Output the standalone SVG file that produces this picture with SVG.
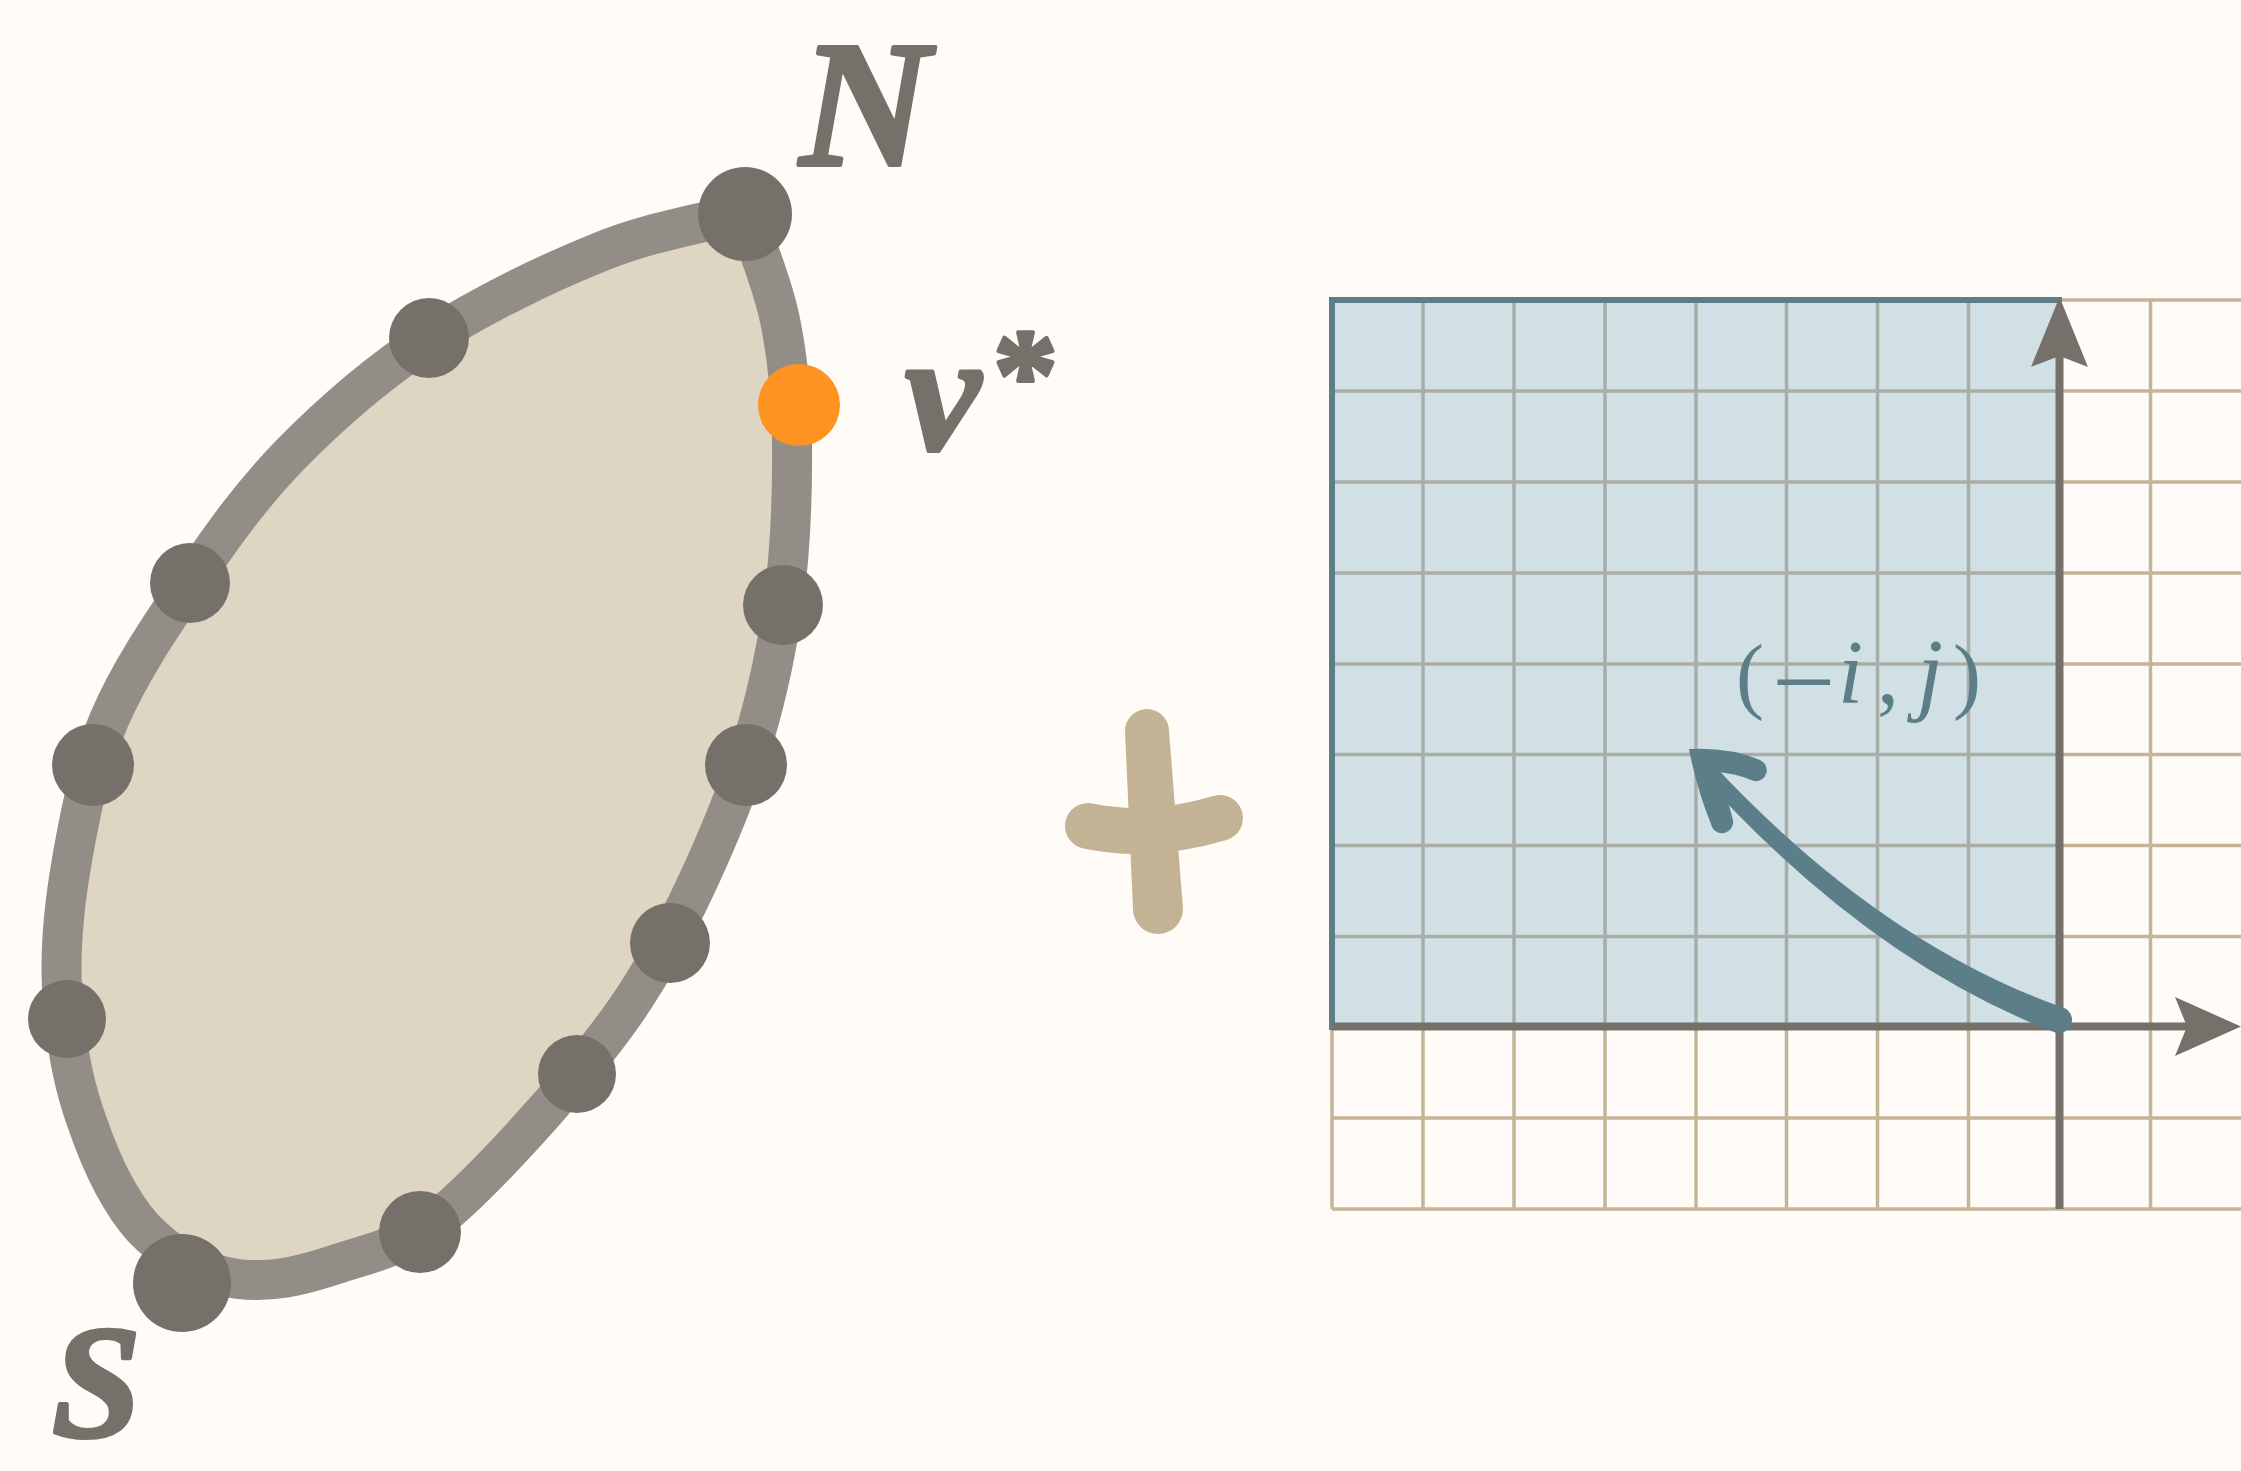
<svg xmlns="http://www.w3.org/2000/svg" width="2241" height="1471" viewBox="0 0 2241 1471">
  <style>
    .dot { fill: #75706a; }
    .lbl { font-family: "Liberation Serif", "DejaVu Serif", serif; fill: #75706a; font-weight: bold; stroke: #75706a; stroke-width: 4; stroke-linejoin: round; }
    .math { font-family: "Liberation Serif", "DejaVu Serif", serif; fill: #5c7e88; }
    .gin { stroke: #a9ada5; stroke-width: 3.5; fill: none; }
    .gout { stroke: #c5b498; stroke-width: 3.5; fill: none; }
    .axis { stroke: #75706a; stroke-width: 8; fill: none; }
    .axhead { fill: #75706a; }
    .arrowc { fill: #5c7e88; }
  </style>
  <rect x="0" y="0" width="2241" height="1471" fill="#fffcf7"/>

  <!-- Leaf-shaped region -->
  <g id="region">
    <path d="M 745 212 C 697 225, 652.7 230.8, 600 252 C 547.3 273.2, 480.7 305.2, 429 339 C 377.3 372.8, 329.8 414.3, 290 455 C 250.2 495.7, 220.2 538.8, 190 583 C 159.8 627.2, 128.7 673.8, 109 720 C 89.3 766.2, 79.8 815.5, 72 860 C 64.2 904.5, 59.8 943.7, 62 987 C 64.2 1030.3, 72 1081.2, 87 1122 C 100 1160, 118 1200, 143 1228 C 168 1254, 200 1274, 238 1279 C 272 1283, 300 1276, 334 1265 C 366 1254, 395 1250, 433 1223 C 474 1191.3, 537 1121.7, 576 1075 C 615 1028.3, 638.8 994.5, 667 943 C 695.2 891.5, 725.7 822.3, 745 766 C 764.3 709.7, 775.2 659.3, 783 605 C 790.8 550.7, 792.5 487.5, 792 440 C 791.5 392.5, 787.8 358, 780 320 C 772.2 282, 757 248, 745 212 Z" fill="#dfd5c3" stroke="#928e87" stroke-width="40" stroke-linejoin="round"/>
  </g>

  <!-- Vertices -->
  <g id="node-N"><circle class="dot" cx="745" cy="214" r="47"/></g>
  <g id="node-1"><circle class="dot" cx="429" cy="338" r="40"/></g>
  <g id="node-2"><circle class="dot" cx="190" cy="583" r="40"/></g>
  <g id="node-3"><circle class="dot" cx="93" cy="765" r="41"/></g>
  <g id="node-4"><circle class="dot" cx="67" cy="1019" r="39"/></g>
  <g id="node-S"><circle class="dot" cx="182" cy="1283" r="49"/></g>
  <g id="node-5"><circle class="dot" cx="420" cy="1232" r="41"/></g>
  <g id="node-6"><circle class="dot" cx="577" cy="1074" r="39"/></g>
  <g id="node-7"><circle class="dot" cx="670" cy="943" r="40"/></g>
  <g id="node-8"><circle class="dot" cx="746" cy="765" r="41"/></g>
  <g id="node-9"><circle class="dot" cx="783" cy="605" r="40"/></g>
  <g id="node-vstar"><circle cx="799" cy="405" r="41" fill="#fe9321"/></g>

  <!-- Labels -->
  <g id="label-N"><text class="lbl" x="800" y="165" font-size="180" font-style="italic">N</text></g>
  <g id="label-vstar">
    <text class="lbl" x="905" y="449" font-size="170" font-style="italic">v</text>
    <text class="lbl" x="993" y="418" font-size="130">*</text>
  </g>
  <g id="label-S"><text class="lbl" x="52" y="1436" font-size="160" font-style="italic">S</text></g>

  <!-- Plus sign -->
  <g id="plus" fill="#c4b295">
    <path d="M 1125 731 A 22 22 0 0 1 1169 731 L 1183 909 A 25 25 0 0 1 1133 909 Z"/>
    <path d="M 1088 826 Q 1150 839 1220 818" fill="none" stroke="#c4b295" stroke-width="46" stroke-linecap="round"/>
  </g>

  <!-- Grid -->
  <g id="grid">
    <rect x="1332" y="300" width="727" height="727" fill="#d1e0e5"/>
    <path class="gin" d="M 1423 300 V 1027 M 1514 300 V 1027 M 1605 300 V 1027 M 1696 300 V 1027 M 1786.5 300 V 1027 M 1877.5 300 V 1027 M 1968.5 300 V 1027
      M 1332 391 H 2059 M 1332 482 H 2059 M 1332 573 H 2059 M 1332 664 H 2059 M 1332 754.5 H 2059 M 1332 845.5 H 2059 M 1332 936.5 H 2059"/>
    <path class="gout" d="M 2059 300 H 2241 M 2059 391 H 2241 M 2059 482 H 2241 M 2059 573 H 2241 M 2059 664 H 2241 M 2059 754.5 H 2241 M 2059 845.5 H 2241 M 2059 936.5 H 2241
      M 1332 1118 H 2241 M 1332 1209 H 2241 M 2150.5 300 V 1209
      M 1332 1027 V 1209 M 1423 1027 V 1209 M 1514 1027 V 1209 M 1605 1027 V 1209 M 1696 1027 V 1209 M 1786.5 1027 V 1209 M 1877.5 1027 V 1209 M 1968.5 1027 V 1209"/>
    <path d="M 1332 300 H 2059 M 1332 300 V 1027" stroke="#5c7e88" stroke-width="6" fill="none" stroke-linecap="square"/>
  </g>

  <!-- Axes -->
  <g id="axes">
    <path class="axis" d="M 1332 1026.5 H 2190"/>
    <path class="axhead" d="M 2241 1026.5 L 2175 997 L 2187 1026.5 L 2175 1056 Z"/>
    <path class="axis" d="M 2059.5 1209 V 350"/>
    <path class="axhead" d="M 2059.5 297 L 2088 367 L 2059.5 356 L 2031 367 Z"/>
  </g>

  <!-- Label (-i, j) -->
  <g id="label-ij">
    <text class="math" y="703" font-size="84"><tspan x="1736">(</tspan><tspan x="1772" y="720" font-size="113">−</tspan><tspan x="1838" y="703" font-size="90" font-style="italic">i</tspan><tspan x="1877" font-size="88">,</tspan><tspan x="1917" font-size="94" font-style="italic">j</tspan><tspan x="1953" font-size="84">)</tspan></text>
  </g>

  <!-- Connectors -->
  <g id="connectors">
    <path class="arrowc" d="M 2063.5 1007.8 Q 1875.9 941.3 1705.9 756.6 L 1694.1 767.4 Q 1864.1 958.7 2054.5 1032.2 A 13 13 0 0 0 2063.5 1007.8 Z"/>
    <path class="arrowc" d="M 1689 749 Q 1730 747 1760 760 A 11 11 0 0 1 1754 781 Q 1735 773 1716 772 Q 1727 795 1733 820 A 11 11 0 0 1 1711 824 Q 1697 790 1689 749 Z"/>
  </g>
</svg>
